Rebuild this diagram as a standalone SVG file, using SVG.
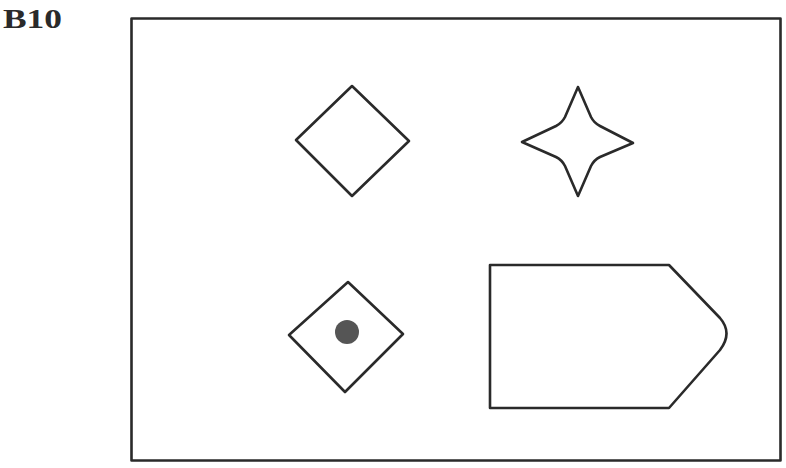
<svg xmlns="http://www.w3.org/2000/svg" width="786" height="468" viewBox="0 0 786 468">
<style>
.s{fill:none;stroke:#2a2a2a;stroke-width:2.6;stroke-linejoin:round}
.lbl{font-family:"Liberation Serif",serif;font-weight:bold;font-size:28px;fill:#2a2a2a}
</style>
<rect width="786" height="468" fill="#ffffff"/>
<text class="lbl" x="3" y="28" textLength="59" lengthAdjust="spacingAndGlyphs">B10</text>
<g id="frame"><rect class="s" x="131.5" y="18.5" width="649" height="442" stroke-width="3" stroke="#3a3a3a"/></g>
<g id="diamond1"><polygon class="s" points="352,86 409,141 352,196 296,140"/></g>
<g id="star"><path class="s" d="M578,87 L565,117 Q562,123 556,126 L522,142 L556,157 Q562,160 565,166 L578,196 L591,166 Q594,160 600,157 L633,143 L600,126 Q594,123 591,117 Z"/></g>
<g id="diamond2"><polygon class="s" points="348,282 403,334 345,392 289,335"/><circle cx="347" cy="332" r="12" fill="#555555"/></g>
<g id="tag"><path class="s" d="M490,265 L669,265 L720,318 Q733,333 720,350 L669,408 L490,408 Z"/></g>
</svg>
